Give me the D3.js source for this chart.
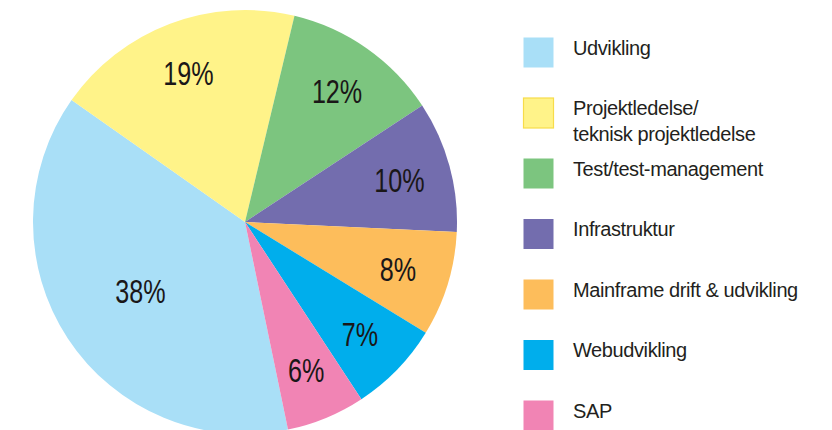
<!DOCTYPE html>
<html><head><meta charset="utf-8">
<script src="https://cdn.jsdelivr.net/npm/d3@7"></script>
<style>html,body{margin:0;padding:0;background:#fff;}svg{display:block;}</style>
</head><body>
<svg id="chart" width="832" height="430"></svg>
<script>
const categories = ["Udvikling", "Projektledelse/\nteknisk projektledelse", "Test/test-management", "Infrastruktur", "Mainframe drift & udvikling", "Webudvikling", "SAP"];
const values = [38, 19, 12, 10, 8, 7, 6];
const colors = ["#A9DFF7", "#FFF389", "#7CC57F", "#736DAE", "#FDBD5B", "#00AEEC", "#F184B4"];
const labelFormat = d => d + "%";

const svg = d3.select("#chart");
const cx = 245, cy = 222, R = 212;
const startDeg = 168.3;

const pie = d3.pie().sort(null).value(d => d)
  .startAngle(startDeg * Math.PI / 180)
  .endAngle((startDeg + 360) * Math.PI / 180);
const arcs = pie(values);
const arc = d3.arc().innerRadius(0).outerRadius(R);

const g = svg.append("g").attr("transform", `translate(${cx},${cy})`);
g.selectAll("path.slice").data(arcs).join("path")
  .attr("class", "slice")
  .attr("d", arc)
  .attr("fill", (d, i) => colors[i]);

const maxV = d3.max(values);
g.selectAll("text.lbl").data(arcs).join("text")
  .attr("class", "lbl")
  .attr("transform", d => {
    const r = d.data === maxV ? R * 0.59 : R * 0.755;
    const c = d3.arc().innerRadius(r).outerRadius(r).centroid(d);
    return `translate(${c[0]},${c[1]}) scale(0.74,1)`;
  })
  .attr("text-anchor", "middle")
  .attr("dy", "0.36em")
  .attr("font-family", "'Liberation Sans', Arial, sans-serif")
  .attr("font-size", 34)
  .attr("fill", "#1a1718")
  .text(d => labelFormat(d.data));

// Legend
const legY = d3.scalePoint().domain(d3.range(categories.length)).range([52.5, 415.5]);
const leg = svg.append("g");
const items = leg.selectAll("g.item").data(categories).join("g")
  .attr("class", "item")
  .attr("transform", (d, i) => `translate(523,${legY(i)})`);
items.append("rect")
  .attr("x", 0.5).attr("y", -15).attr("width", 30).attr("height", 30)
  .attr("fill", (d, i) => colors[i])
  .attr("stroke", (d, i) => i === 1 ? "#F7DC4A" : "none")
  .attr("stroke-width", 1.2);
items.each(function(d) {
  const lines = d.split("\n");
  const t = d3.select(this).append("text")
    .attr("x", 50).attr("y", 2)
    .attr("font-family", "'Liberation Sans', Arial, sans-serif")
    .attr("font-size", 20)
    .attr("letter-spacing", "-0.4px")
    .attr("fill", "#231F20");
  lines.forEach((ln, j) => {
    t.append("tspan").attr("x", 50).attr("dy", j === 0 ? 0 : 25.5).text(ln);
  });
});
</script>
</body></html>
